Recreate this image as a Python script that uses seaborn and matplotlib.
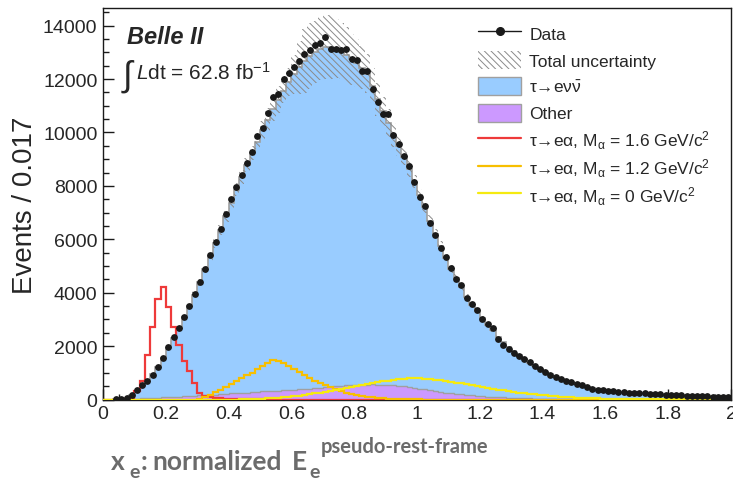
import numpy as np
import pandas as pd
import matplotlib
matplotlib.use("Agg")
import matplotlib.pyplot as plt
import seaborn as sns
from matplotlib.lines import Line2D
from matplotlib.patches import Patch, Rectangle
from matplotlib.legend_handler import HandlerPatch
from matplotlib.ticker import MultipleLocator, FuncFormatter

# ---------------- data ----------------
x_lo, x_hi, n_bins = 0.0, 2.0, 120

data = [
    0, 0, 3, 20, 60, 150, 340, 530, 700, 930,
    1200, 1550, 1950, 2330, 2670, 3080, 3500, 3950, 4400, 4900,
    5400, 5900, 6400, 6950, 7500, 7950, 8400, 8850, 9280, 9880,
    10160, 10720, 11320, 11450, 11990, 12240, 12470, 12660, 12950, 13100,
    13260, 13350, 13570, 13140, 13140, 13080, 13110, 12740, 12730, 12320,
    12290, 11610, 11140, 10700, 10700, 9910, 9570, 9110, 8730, 8160,
    7570, 7260, 6610, 6160, 5690, 5320, 4940, 4530, 4280, 3790,
    3570, 3350, 3030, 2820, 2690, 2250, 2050, 1880, 1760, 1640,
    1500, 1390, 1250, 1140, 1020, 930, 860, 780, 690, 650,
    590, 530, 480, 410, 370, 340, 320, 300, 285, 270,
    255, 245, 235, 225, 215, 205, 195, 185, 175, 165,
    155, 145, 138, 130, 123, 117, 110, 105, 100, 95]

mc_total = [
    0, 0, 2, 15, 60, 160, 330, 520, 720, 940,
    1220, 1560, 1930, 2310, 2680, 3080, 3490, 3930, 4390, 4870,
    5360, 5860, 6360, 6870, 7370, 7860, 8330, 8790, 9230, 9660,
    10080, 10480, 10870, 11230, 11570, 11890, 12180, 12440, 12670, 12860,
    13020, 13140, 13200, 13200, 13150, 13050, 12900, 12750, 12600, 12420,
    12200, 11750, 11250, 10800, 10350, 9900, 9500, 9100, 8650, 8150,
    7650, 7200, 6700, 6200, 5750, 5300, 4900, 4550, 4200, 3850,
    3550, 3300, 3050, 2800, 2600, 2350, 2150, 1950, 1800, 1650,
    1500, 1380, 1250, 1140, 1030, 940, 860, 780, 700, 640,
    580, 520, 470, 420, 380, 340, 320, 300, 285, 270,
    255, 245, 235, 225, 215, 205, 195, 185, 175, 165,
    155, 145, 138, 130, 123, 117, 110, 105, 100, 95]

other = [
    0, 0, 0, 0, 0, 20, 30, 40, 50, 60,
    70, 80, 90, 100, 110, 120, 130, 140, 150, 160,
    170, 185, 200, 210, 225, 240, 250, 260, 270, 280,
    300, 310, 320, 330, 340, 350, 370, 380, 395, 410,
    420, 440, 460, 480, 500, 510, 530, 540, 550, 560,
    560, 570, 560, 550, 540, 530, 510, 490, 470, 440,
    410, 380, 350, 320, 290, 260, 235, 210, 190, 170,
    150, 135, 120, 105, 95, 85, 75, 65, 58, 52,
    46, 40, 35, 30, 26, 22, 19, 16, 14, 12,
    10, 9, 8, 7, 6, 5, 5, 4, 4, 3,
    3, 3, 2, 2, 2, 2, 1, 1, 1, 1,
    1, 1, 1, 0, 0, 0, 0, 0, 0, 0]

unc_frac = [
    0.03, 0.03, 0.03, 0.03, 0.03, 0.03, 0.03, 0.03, 0.03, 0.03,
    0.03, 0.03, 0.03, 0.03, 0.03, 0.03, 0.03, 0.03, 0.03, 0.03,
    0.03, 0.03, 0.03, 0.03, 0.03, 0.03, 0.03, 0.03, 0.03, 0.03,
    0.035, 0.04, 0.04, 0.045, 0.04, 0.045, 0.06, 0.08, 0.095, 0.095,
    0.09, 0.09, 0.09, 0.09, 0.085, 0.08, 0.08, 0.075, 0.07, 0.065,
    0.06, 0.055, 0.055, 0.05, 0.05, 0.045, 0.04, 0.035, 0.035, 0.03,
    0.03, 0.03, 0.03, 0.03, 0.03, 0.03, 0.03, 0.03, 0.03, 0.03,
    0.03, 0.03, 0.03, 0.03, 0.03, 0.03, 0.03, 0.03, 0.03, 0.03,
    0.03, 0.03, 0.03, 0.03, 0.03, 0.03, 0.03, 0.03, 0.03, 0.03,
    0.03, 0.03, 0.03, 0.03, 0.03, 0.03, 0.03, 0.03, 0.03, 0.03,
    0.03, 0.03, 0.03, 0.03, 0.03, 0.03, 0.03, 0.03, 0.03, 0.03,
    0.03, 0.03, 0.03, 0.03, 0.03, 0.03, 0.03, 0.03, 0.03, 0.03]

sig_m16 = [
    0, 0, 0, 0, 10, 40, 300, 700, 1650, 2710,
    3770, 4230, 3470, 2720, 2050, 1430, 1050, 630, 250, 130,
    90, 60, 45, 35, 25, 20, 15, 10, 8, 6,
    4, 3, 2] + [0] * 87

sig_m12 = [0] * 18 + [
    20, 80, 180, 270, 370, 470, 580, 680, 790, 900,
    1010, 1130, 1250, 1370, 1480, 1440, 1350, 1250, 1140, 1030,
    920, 810, 710, 620, 530, 450, 380, 320, 260, 210,
    165, 130, 100, 75, 55, 40, 30, 22, 15, 10,
    6, 4, 2] + [0] * 59

sig_m0 = [0] * 26 + [
    5, 10, 15, 22, 30, 40, 52, 65, 80, 100,
    120, 145, 170, 200, 230, 260, 290, 320, 350, 380,
    420, 460, 500, 540, 580, 620, 650, 680, 710, 740,
    760, 780, 790, 795, 790, 780, 765, 745, 720, 690,
    660, 630, 600, 565, 530, 495, 460, 430, 400, 370,
    340, 310, 285, 260, 235, 212, 192, 172, 155, 138,
    122, 108, 95, 83, 72, 62, 53, 45, 38, 32,
    26, 21, 17, 13, 10, 8, 6, 5, 4, 3,
    2, 2, 2, 2, 2, 2, 2, 2, 2, 2,
    2, 2, 2, 2]

legend_labels = [
    "Data",
    "Total uncertainty",
    r"$\tau$→e$\nu\bar{\nu}$",
    "Other",
    r"$\tau$→e$\alpha$, M$_{\alpha}$ = 1.6 GeV/c$^{2}$",
    r"$\tau$→e$\alpha$, M$_{\alpha}$ = 1.2 GeV/c$^{2}$",
    r"$\tau$→e$\alpha$, M$_{\alpha}$ = 0 GeV/c$^{2}$",
]

# ---------------- style ----------------
sns.set_theme(style="ticks")
plt.rcParams["font.family"] = ["Liberation Sans", "DejaVu Sans"]
plt.rcParams["mathtext.fontset"] = "custom"
plt.rcParams["mathtext.rm"] = "Liberation Sans"
plt.rcParams["mathtext.it"] = "Liberation Sans:italic"
plt.rcParams["mathtext.bf"] = "Liberation Sans:bold"
plt.rcParams["mathtext.default"] = "regular"
plt.rcParams["hatch.linewidth"] = 0.7

c_blue = "#99ccff"
c_purple = "#cc99ff"
c_edge = "#a0a0a0"
c_hatch = "#8a8a8a"
c_red = "#ee3a3a"
c_orange = "#f7bf00"
c_yellow = "#f5ea10"
hatch = "\\" * 5

W, H = 733, 481
fig = plt.figure(figsize=(W / 100, H / 100), dpi=100)
ax_l, ax_r, ax_t, ax_b = 103, 731, 9.3, 400.5
ax = fig.add_axes([ax_l / W, 1 - ax_b / H, (ax_r - ax_l) / W, (ax_b - ax_t) / H])

edges = np.linspace(x_lo, x_hi, n_bins + 1)
centers = 0.5 * (edges[1:] + edges[:-1])
bw = edges[1] - edges[0]

data_a = np.array(data, float)
mc_a = np.array(mc_total, float)
oth_a = np.array(other, float)
unc_a = np.array(unc_frac, float)

# stacked MC
ax.stairs(oth_a, edges, baseline=0, fill=True, color=c_purple, zorder=1)
ax.stairs(mc_a, edges, baseline=oth_a, fill=True, color=c_blue, zorder=1)
ax.stairs(oth_a, edges, color=c_edge, lw=1.0, zorder=2)
ax.stairs(mc_a, edges, color=c_edge, lw=1.2, zorder=2)

# uncertainty band
lo = mc_a * (1 - unc_a)
hi = mc_a * (1 + unc_a)
ax.fill_between(edges, np.append(lo, lo[-1]), np.append(hi, hi[-1]), step="post",
                facecolor="none", edgecolor=c_hatch, hatch=hatch, linewidth=0, zorder=3)

# signals
ax.stairs(np.array(sig_m16, float), edges, color=c_red, lw=1.6, zorder=4)
ax.stairs(np.array(sig_m12, float), edges, color=c_orange, lw=1.6, zorder=4)
ax.stairs(np.array(sig_m0, float), edges, color=c_yellow, lw=1.6, zorder=4)

# data
m = data_a > 0
df = pd.DataFrame({"x": centers[m], "y": data_a[m]})
ax.errorbar(df["x"], df["y"], xerr=bw / 2, yerr=np.sqrt(df["y"]), fmt="none",
            ecolor="k", elinewidth=0.8, zorder=5)
sns.scatterplot(data=df, x="x", y="y", ax=ax, color="k", s=24, linewidth=0,
                legend=False, zorder=6)

# axes
ax.set_xlim(x_lo, x_hi)
ax.set_ylim(0, 14650)
ax.set_xlabel("")
ax.set_ylabel("")
ax.xaxis.set_major_locator(MultipleLocator(0.2))
ax.xaxis.set_minor_locator(MultipleLocator(0.05))
ax.yaxis.set_major_locator(MultipleLocator(2000))
ax.yaxis.set_minor_locator(MultipleLocator(500))
ax.xaxis.set_major_formatter(FuncFormatter(lambda v, p: f"{v:g}"))
ax.tick_params(which="both", direction="in", labelsize=14, color="k", width=1)
ax.tick_params(which="major", length=8)
ax.tick_params(which="minor", length=4)
ax.tick_params(axis="x", pad=4)
ax.tick_params(axis="y", pad=4)
for s in ax.spines.values():
    s.set_visible(True)
    s.set_color("k")
    s.set_linewidth(1.0)

# legend
fs_leg = 12.5
box_h = 1.03 * fs_leg


def make_box(legend, orig_handle, xdescent, ydescent, width, height, fontsize):
    return Rectangle((-xdescent, -ydescent + (height - box_h) / 2), width, box_h)


handles = [
    Line2D([], [], color="k", marker="o", ms=5.5, lw=1),
    Patch(facecolor="none", edgecolor=c_hatch, hatch=hatch, linewidth=0),
    Patch(facecolor=c_blue, edgecolor=c_edge, linewidth=1),
    Patch(facecolor=c_purple, edgecolor=c_edge, linewidth=1),
    Line2D([], [], color=c_red, lw=1.6),
    Line2D([], [], color=c_orange, lw=1.6),
    Line2D([], [], color=c_yellow, lw=1.6),
]
ax.legend(handles, legend_labels, loc="upper left",
          bbox_to_anchor=((478 - ax_l) / (ax_r - ax_l), (ax_b - 24) / (ax_b - ax_t)),
          frameon=False, fontsize=fs_leg, handlelength=2.5, handleheight=1.5,
          labelspacing=0.3, handletextpad=0.45, borderpad=0, borderaxespad=0,
          handler_map={Patch: HandlerPatch(patch_func=make_box)})


def fpos(x, y):
    return x / W, 1 - y / H


fig.text(*fpos(127, 44), "Belle II", fontsize=17, fontweight="bold", fontstyle="italic",
         va="baseline")
fig.text(*fpos(123, 86), "∫", fontsize=25, va="baseline")
fig.text(*fpos(136, 80), r"$\mathit{L}$dt = 62.8 fb$^{-1}$", fontsize=15, va="baseline")
fig.text(*fpos(25, 205), "Events / 0.017", rotation=90, fontsize=20, ha="center",
         va="center")

grey = "#6b6b6b"
lab = dict(family=["Lato", "DejaVu Sans"], weight="bold", color=grey, va="baseline")
fig.text(*fpos(111, 470), "x", fontsize=19, **lab)
fig.text(*fpos(129, 478.5), "e", fontsize=14, **lab)
fig.text(*fpos(141, 470), ":", fontsize=19, **lab)
fig.text(*fpos(152, 470), "normalized", fontsize=19, **lab)
fig.text(*fpos(292, 470), "E", fontsize=19, **lab)
fig.text(*fpos(309, 478.5), "e", fontsize=14, **lab)
fig.text(*fpos(321, 453), "pseudo-rest-frame", fontsize=14.5, **lab)

fig.savefig("out.png", dpi=100)
